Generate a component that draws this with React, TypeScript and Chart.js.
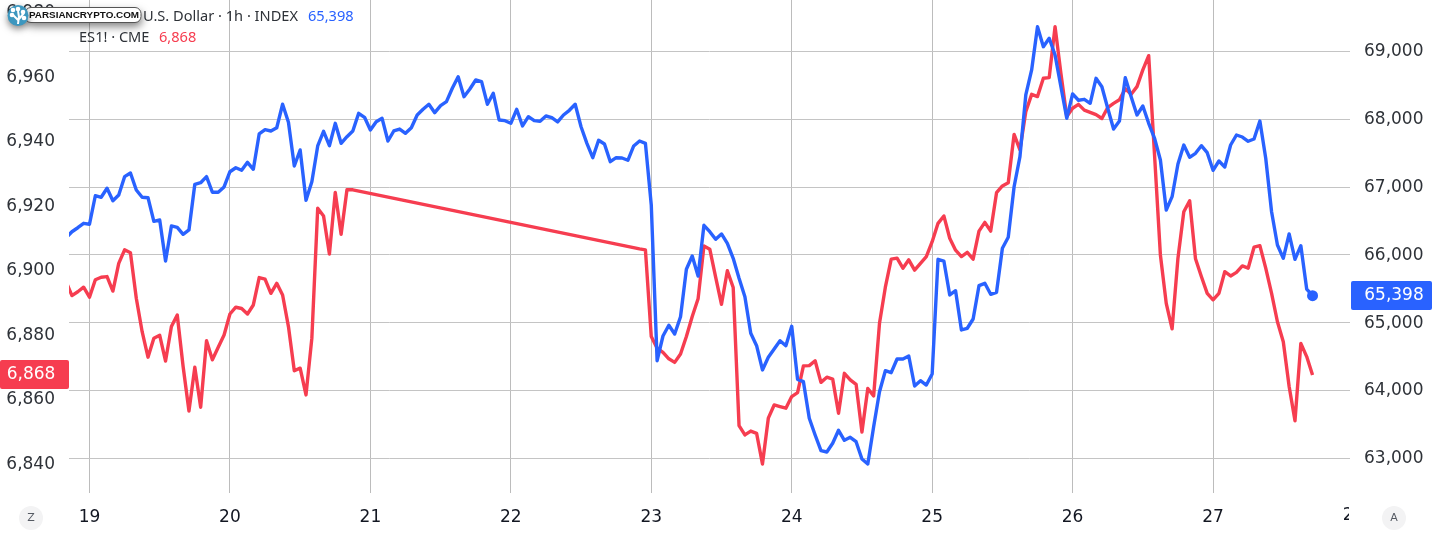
import React, { useEffect, useRef } from "react";
import { Chart, registerables } from "chart.js";

Chart.register(...registerables);

const FONT = '"DejaVu Sans", sans-serif';
const LEGEND_FONT = '"Noto Sans", sans-serif';

// one entry per hour; index 4 is the 19th at 00:00
const bitcoinUsd = [
  66250, 66342, 66401, 66466, 66452, 66873, 66850, 66983, 66800, 66884, 67154, 67208, 66958, 66850, 66844, 66496,
  66515, 65910, 66427, 66407, 66304, 66368, 67042, 67065, 67154, 66924, 66924, 67002, 67227, 67286, 67248, 67366,
  67263, 67784, 67847, 67828, 67876, 68222, 67956, 67312, 67548, 66806, 67080, 67607, 67823, 67611, 67941, 67646,
  67744, 67828, 68089, 68030, 67842, 67965, 68015, 67680, 67828, 67857, 67794, 67876, 68064, 68148, 68222, 68098,
  68201, 68260, 68458, 68629, 68334, 68447, 68580, 68555, 68222, 68384, 67990, 67980, 67941, 68148, 67902, 68039,
  67980, 67971, 68049, 68024, 67961, 68064, 68133, 68222, 67891, 67646, 67434, 67691, 67636, 67375, 67434, 67430,
  67396, 67607, 67680, 67646, 66736, 64440, 64804, 64962, 64834, 65089, 65788, 65984, 65689, 66437, 66342, 66230,
  66309, 66171, 65950, 65655, 65384, 64844, 64661, 64303, 64490, 64612, 64735, 64661, 64947, 64165, 64130, 63590,
  63344, 63112, 63093, 63221, 63413, 63266, 63310, 63245, 62990, 62916, 63466, 63982, 64292, 64263, 64465, 64465,
  64509, 64067, 64145, 64081, 64244, 65935, 65910, 65409, 65472, 64893, 64918, 65055, 65546, 65581, 65419, 65449,
  66098, 66260, 67006, 67449, 68359, 68728, 69366, 69071, 69195, 68949, 68481, 68015, 68374, 68281, 68295, 68236,
  68605, 68481, 68163, 67857, 67975, 68614, 68334, 68064, 68197, 67941, 67720, 67400, 66663, 66859, 67341, 67621,
  67440, 67499, 67611, 67508, 67248, 67385, 67297, 67621, 67769, 67739, 67676, 67710, 67975, 67425, 66637, 66146,
  65950, 66309, 65935, 66136, 65497, 65398,
];

// the future closes over the weekend, so its hours are empty there
const es1Futures = [
  6895.9, 6891.6, 6892.8, 6894.2, 6891.1, 6896.5, 6897.3, 6897.5, 6893.0, 6901.6, 6905.8, 6904.9, 6890.8, 6880.4,
  6872.5, 6878.4, 6879.3, 6871.3, 6882.0, 6885.6, 6869.6, 6855.8, 6869.4, 6857.0, 6877.6, 6871.7, 6875.6, 6879.4,
  6885.9, 6888.0, 6887.6, 6885.9, 6888.7, 6897.2, 6896.7, 6892.3, 6895.4, 6891.8, 6882.0, 6868.3, 6869.1, 6860.8,
  6878.4, 6918.7, 6916.3, 6904.5, 6923.6, 6910.6, 6924.4, 6924.4,
  null, null, null, null, null, null, null, null, null, null, null, null,
  null, null, null, null, null, null, null, null, null, null, null, null,
  null, null, null, null, null, null, null, null, null, null, null, null,
  null, null, null, null, null, null, null, null, null, null, null, null,
  6906.1, 6905.8, 6878.9, 6875.3, 6874.0, 6872.0, 6870.9, 6873.5, 6878.9, 6885.1, 6890.6, 6907.0, 6906.0, 6897.3,
  6888.9, 6899.3, 6894.1, 6851.3, 6848.4, 6849.6, 6848.9, 6839.4, 6853.6, 6857.7, 6857.2, 6856.7, 6860.3, 6861.5,
  6869.8, 6869.9, 6871.4, 6864.7, 6866.3, 6865.7, 6855.1, 6867.5, 6865.5, 6864.1, 6849.3, 6862.8, 6860.5, 6883.0,
  6894.2, 6902.9, 6903.2, 6900.1, 6902.7, 6899.5, 6901.6, 6903.7, 6908.3, 6914.0, 6916.3, 6909.4, 6905.7, 6903.7,
  6905.0, 6902.9, 6911.6, 6914.3, 6911.6, 6923.5, 6925.6, 6926.6, 6941.6, 6936.8, 6948.6, 6954.0, 6953.3, 6959.0,
  6959.2, 6975.0, 6960.5, 6947.1, 6949.7, 6950.9, 6949.1, 6948.4, 6947.7, 6946.5, 6949.9, 6951.2, 6952.3, 6955.7,
  6954.0, 6956.4, 6961.6, 6966.0, 6935.2, 6904.2, 6889.2, 6881.3, 6903.2, 6917.6, 6921.0, 6903.0, 6897.5, 6892.3,
  6890.3, 6892.3, 6899.0, 6897.7, 6898.8, 6900.8, 6900.1, 6906.6, 6907.1, 6900.1, 6892.3, 6883.5, 6877.3, 6863.4,
  6852.8, 6876.8, 6872.7, 6867.0,
];

const dayLabels = ["19", "20", "21", "22", "23", "24", "25", "26", "27", "28"];
const dayTicks = [0, 24, 48, 72, 96, 120, 144, 168, 192];
const leftTicks = [6840, 6860, 6880, 6900, 6920, 6940, 6960, 6980];
const rightTicks = [63000, 64000, 65000, 66000, 67000, 68000, 69000];
const hourOffsets = bitcoinUsd.map((_, i) => i - 4);
const btcLegend = "U.S. Dollar · 1h · INDEX";
const esLegend = "ES1! · CME";
const btcLast = "65,398";
const esLast = "6,868";
const logoText = "PARSIANCRYPTO.COM";

const BLUE = "#2962ff";
const RED = "#f63d50";
const GRID = "#c4c4c4";
const TEXT = "#2e3238";

const setTicks = (values: number[]) => (s: any) => {
  s.ticks = values.map((value) => ({ value }));
};

const fixSize = (size: { width?: number; height?: number }) => (s: any) => {
  if (size.width) s.width = size.width;
  if (size.height) s.height = size.height;
  s.paddingTop = 0;
  s.paddingBottom = 0;
  s.paddingLeft = 0;
  s.paddingRight = 0;
};

const overlay = {
  id: "overlay",
  afterDraw(chart: any) {
    const { ctx, chartArea, scales } = chart;
    ctx.save();

    // last day label, cut off by the price scale
    ctx.save();
    ctx.beginPath();
    ctx.rect(0, chartArea.bottom, chartArea.right - 1, 43);
    ctx.clip();
    ctx.font = `17px ${FONT}`;
    ctx.fillStyle = "#131722";
    ctx.textAlign = "center";
    ctx.textBaseline = "middle";
    ctx.fillText(dayLabels[9], scales.x.getPixelForValue(216), 516);
    ctx.restore();

    // legends
    ctx.font = `14.6px ${LEGEND_FONT}`;
    ctx.textAlign = "left";
    ctx.textBaseline = "middle";
    ctx.fillStyle = TEXT;
    ctx.fillText(btcLegend, 143, 17);
    ctx.fillText(esLegend, 79, 38);
    ctx.fillStyle = BLUE;
    ctx.fillText(btcLast, 308, 17);
    ctx.fillStyle = RED;
    ctx.fillText(esLast, 159, 38);

    // last price tags
    const tag = (x: number, y: number, w: number, h: number, color: string, text: string, cx: number) => {
      ctx.fillStyle = color;
      ctx.beginPath();
      ctx.roundRect(x, y, w, h, 2);
      ctx.fill();
      ctx.fillStyle = "#ffffff";
      ctx.font = `17px ${FONT}`;
      ctx.textAlign = "center";
      ctx.fillText(text, cx, y + h / 2 + 0.5);
    };
    tag(0, 360, 69, 29, RED, esLast, 31);
    tag(1351, 281, 81, 29, BLUE, btcLast, 1394);

    // Z and A buttons
    const button = (x: number, label: string) => {
      ctx.fillStyle = "#f3f3f4";
      ctx.beginPath();
      ctx.arc(x, 518, 12, 0, Math.PI * 2);
      ctx.fill();
      ctx.fillStyle = "#555a63";
      ctx.font = `11px ${FONT}`;
      ctx.textAlign = "center";
      ctx.fillText(label, x, 518);
    };
    button(31, "Z");
    button(1394, "A");

    // watermark
    ctx.save();
    ctx.shadowColor = "rgba(0,0,0,0.5)";
    ctx.shadowBlur = 9;
    ctx.shadowOffsetX = 1;
    ctx.shadowOffsetY = 4;
    ctx.fillStyle = "#ffffff";
    ctx.strokeStyle = "#555555";
    ctx.lineWidth = 1;
    ctx.beginPath();
    ctx.roundRect(25, 7.5, 116, 15, 6);
    ctx.fill();
    ctx.shadowColor = "transparent";
    ctx.stroke();
    ctx.restore();
    ctx.save();
    ctx.shadowColor = "rgba(0,0,0,0.5)";
    ctx.shadowBlur = 7;
    ctx.shadowOffsetY = 3;
    ctx.fillStyle = "#3d97bf";
    ctx.beginPath();
    ctx.arc(18, 15.5, 10.5, 0, Math.PI * 2);
    ctx.fill();
    ctx.restore();
    ctx.strokeStyle = "#ffffff";
    ctx.fillStyle = "#ffffff";
    ctx.lineWidth = 2;
    ctx.beginPath();
    ctx.moveTo(18, 24);
    ctx.lineTo(19, 16);
    ctx.moveTo(18, 20);
    ctx.lineTo(13, 15);
    ctx.moveTo(19, 19);
    ctx.lineTo(24, 13);
    ctx.moveTo(19, 17);
    ctx.lineTo(18, 11);
    ctx.stroke();
    [[12, 15], [13, 10], [18, 9], [23, 12], [24, 18]].forEach(([x, y]) => {
      ctx.beginPath();
      ctx.arc(x, y, 2.3, 0, Math.PI * 2);
      ctx.fill();
    });
    ctx.fillStyle = "#111111";
    ctx.font = `bold 9.9px "Liberation Sans", sans-serif`;
    ctx.textAlign = "left";
    ctx.fillText(logoText, 29, 15.5);

    ctx.restore();
  },
};

export default function App() {
  const ref = useRef<HTMLCanvasElement | null>(null);

  useEffect(() => {
    document.body.style.margin = "0";
    const chart = new Chart(ref.current as HTMLCanvasElement, {
      type: "line",
      data: {
        labels: hourOffsets,
        datasets: [
          {
            label: "BTC",
            data: bitcoinUsd.map((y, i) => ({ x: hourOffsets[i], y })),
            yAxisID: "right",
            borderColor: BLUE,
            backgroundColor: BLUE,
            borderWidth: 3.4,
            tension: 0,
            borderJoinStyle: "round",
            pointBorderWidth: 0,
            pointRadius: (c: any) => (c.dataIndex === bitcoinUsd.length - 1 ? 5.5 : 0),
          },
          {
            label: "ES1!",
            data: es1Futures.map((y, i) => ({ x: hourOffsets[i], y })),
            yAxisID: "left",
            borderColor: RED,
            borderWidth: 3.4,
            tension: 0,
            borderJoinStyle: "round",
            pointRadius: 0,
            spanGaps: true,
          },
        ],
      } as any,
      options: {
        responsive: false,
        animation: false,
        layout: { padding: 0, autoPadding: false },
        plugins: { legend: { display: false }, tooltip: { enabled: false } },
        scales: {
          x: {
            type: "linear",
            min: -3.5,
            max: 215.4,
            afterBuildTicks: setTicks(dayTicks),
            afterFit: fixSize({ height: 43 }),
            border: { display: false },
            grid: { color: "#bcbcbc", drawTicks: false, lineWidth: 1 },
            ticks: {
              autoSkip: false,
              maxRotation: 0,
              padding: 14,
              color: "#131722",
              font: { family: FONT, size: 17 },
              callback: (v: any) => dayLabels[Number(v) / 24],
            },
          },
          left: {
            type: "linear",
            position: "left",
            min: 6830.4,
            max: 6983.25,
            afterBuildTicks: setTicks(leftTicks),
            afterFit: fixSize({ width: 69 }),
            border: { display: false },
            grid: { display: false, drawTicks: false },
            ticks: {
              padding: 14,
              labelOffset: 2.5,
              color: TEXT,
              font: { family: FONT, size: 17 },
              callback: (v: any) => Number(v).toLocaleString("en-US"),
            },
          },
          right: {
            type: "linear",
            position: "right",
            min: 62488.25,
            max: 69760,
            afterBuildTicks: setTicks(rightTicks),
            afterFit: fixSize({ width: 85 }),
            border: { display: false },
            grid: { color: GRID, drawTicks: false, lineWidth: 1 },
            ticks: {
              padding: 14,
              labelOffset: 0.5,
              color: TEXT,
              font: { family: FONT, size: 17 },
              callback: (v: any) => Number(v).toLocaleString("en-US"),
            },
          },
        },
      },
      plugins: [overlay],
    } as any);
    return () => chart.destroy();
  }, []);

  return <canvas ref={ref} width={1435} height={536} style={{ display: "block" }} />;
}
